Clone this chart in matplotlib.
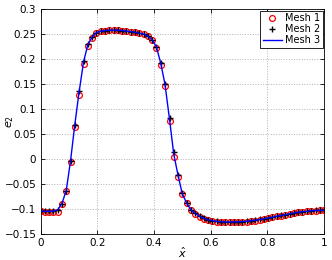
import numpy as np
import matplotlib
matplotlib.use("Agg")
import matplotlib.pyplot as plt

x = [0.000, 0.015, 0.030, 0.045, 0.061, 0.076, 0.091, 0.106, 0.121, 0.136,
     0.152, 0.167, 0.182, 0.197, 0.212, 0.227, 0.242, 0.258, 0.273, 0.288,
     0.303, 0.318, 0.333, 0.348, 0.364, 0.379, 0.394, 0.409, 0.424, 0.439,
     0.455, 0.470, 0.485, 0.500, 0.515, 0.530, 0.545, 0.561, 0.576, 0.591,
     0.606, 0.621, 0.636, 0.652, 0.667, 0.682, 0.697, 0.712, 0.727, 0.742,
     0.758, 0.773, 0.788, 0.803, 0.818, 0.833, 0.848, 0.864, 0.879, 0.894,
     0.909, 0.924, 0.939, 0.955, 0.970, 0.985, 1.000]

mesh3 = [-0.103, -0.104, -0.104, -0.104, -0.101, -0.088, -0.062, -0.003, 0.069, 0.134,
         0.195, 0.229, 0.244, 0.253, 0.256, 0.257, 0.258, 0.258, 0.258, 0.257,
         0.256, 0.255, 0.254, 0.252, 0.250, 0.246, 0.239, 0.224, 0.192, 0.150,
         0.080, 0.010, -0.032, -0.069, -0.087, -0.101, -0.108, -0.114, -0.118, -0.121,
         -0.123, -0.124, -0.125, -0.1255, -0.1255, -0.1255, -0.125, -0.1245, -0.124, -0.123,
         -0.122, -0.1205, -0.119, -0.1175, -0.116, -0.114, -0.1125, -0.111, -0.109, -0.1075,
         -0.106, -0.105, -0.104, -0.103, -0.1025, -0.102, -0.102]

mesh1 = [-0.103, -0.105, -0.106, -0.106, -0.105, -0.090, -0.064, -0.006, 0.065, 0.128,
         0.190, 0.226, 0.242, 0.252, 0.256, 0.257, 0.258, 0.258, 0.258, 0.257,
         0.256, 0.255, 0.254, 0.252, 0.250, 0.246, 0.238, 0.222, 0.189, 0.146,
         0.076, 0.005, -0.035, -0.070, -0.088, -0.102, -0.109, -0.115, -0.119, -0.122,
         -0.124, -0.125, -0.126, -0.126, -0.126, -0.126, -0.1255, -0.125, -0.1245, -0.1235,
         -0.1225, -0.121, -0.1195, -0.118, -0.1165, -0.1145, -0.113, -0.1115, -0.1095, -0.108,
         -0.1065, -0.1055, -0.1045, -0.1035, -0.103, -0.1025, -0.1025]

mesh2 = [-0.103, -0.104, -0.104, -0.104, -0.102, -0.089, -0.063, -0.004, 0.068, 0.136,
         0.197, 0.230, 0.245, 0.253, 0.256, 0.257, 0.258, 0.258, 0.258, 0.257,
         0.256, 0.255, 0.254, 0.252, 0.250, 0.246, 0.239, 0.224, 0.192, 0.151,
         0.082, 0.014, -0.031, -0.068, -0.087, -0.101, -0.108, -0.114, -0.118, -0.121,
         -0.123, -0.124, -0.125, -0.1255, -0.1255, -0.1255, -0.125, -0.1245, -0.124, -0.123,
         -0.122, -0.1205, -0.119, -0.1175, -0.116, -0.114, -0.1125, -0.111, -0.109, -0.1075,
         -0.106, -0.105, -0.104, -0.103, -0.1025, -0.102, -0.102]

xticks = [0, 0.2, 0.4, 0.6, 0.8, 1]
xticklabels = ["0", "0.2", "0.4", "0.6", "0.8", "1"]
yticks = [-0.15, -0.1, -0.05, 0, 0.05, 0.1, 0.15, 0.2, 0.25, 0.3]
yticklabels = ["\u22120.15", "\u22120.1", "\u22120.05", "0", "0.05", "0.1", "0.15", "0.2", "0.25", "0.3"]

fig = plt.figure(figsize=(3.32, 2.60), dpi=100)
ax = fig.add_axes([0.122, 0.099, 0.854, 0.866])

ax.plot(x, mesh1, linestyle="none", marker="o", markersize=4.2, markerfacecolor="none",
        markeredgecolor="red", markeredgewidth=0.9, label="Mesh 1", zorder=3)
ax.plot(x, mesh2, linestyle="none", marker="+", markersize=4.5, color="black",
        markeredgewidth=1.0, label="Mesh 2", zorder=4)
ax.plot(x, mesh3, color="blue", linewidth=1.0, label="Mesh 3", zorder=5)

ax.set_xlim(0, 1)
ax.set_ylim(-0.15, 0.3)
ax.set_xticks(xticks)
ax.set_xticklabels(xticklabels)
ax.set_yticks(yticks)
ax.set_yticklabels(yticklabels)
ax.tick_params(direction="in", length=3, width=0.6, labelsize=7.5, top=True, right=True, pad=3)
ax.grid(True, linestyle=":", color="#b0b0b0", linewidth=0.7)
for s in ax.spines.values():
    s.set_linewidth(0.6)

ax.set_xlabel(r"$\hat{x}$", fontsize=8)
ax.xaxis.set_label_coords(0.5, -0.052)
ax.set_ylabel(r"$e_2$", fontsize=8)
ax.yaxis.set_label_coords(-0.088, 0.5)

leg = ax.legend(loc="upper right", fontsize=7, frameon=True, fancybox=False,
                edgecolor="black", framealpha=1, borderpad=0.25, labelspacing=0.12,
                handlelength=2.0, handletextpad=0.3, borderaxespad=0.15)
leg.get_frame().set_linewidth(0.6)

fig.savefig("out.png", dpi=100)
